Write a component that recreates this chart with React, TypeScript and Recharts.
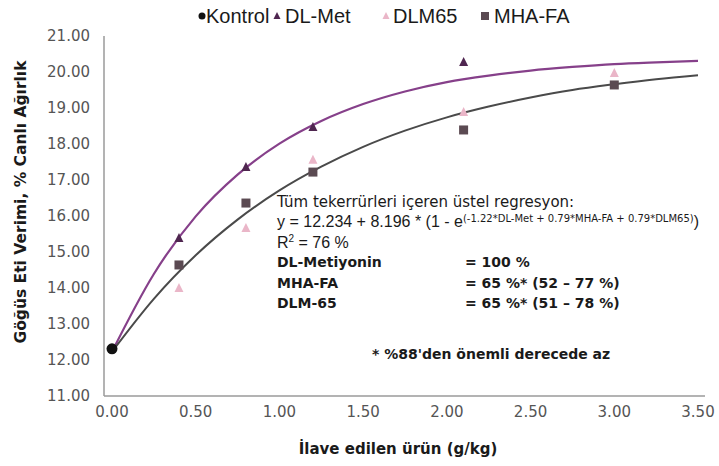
import React from 'react';
import { ComposedChart, Line, Scatter, XAxis, YAxis } from 'recharts';

// Fitted curves
const curveX = [0, 0.25, 0.5, 0.75, 1.0, 1.25, 1.5, 1.75, 2.0, 2.25, 2.5, 2.75, 3.0, 3.25, 3.5];
const dlMetCurve = [12.23, 14.39, 15.99, 17.15, 18.01, 18.64, 19.11, 19.46, 19.72, 19.9, 20.04, 20.14, 20.22, 20.27, 20.31];
const otherCurve = [12.23, 13.7, 14.91, 15.9, 16.71, 17.37, 17.92, 18.37, 18.74, 19.04, 19.29, 19.5, 19.66, 19.8, 19.91];

// Observed points
const kontrolX = [0];
const kontrolY = [12.31];
const dlMetX = [0.4, 0.8, 1.2, 2.1];
const dlMetY = [15.39, 17.36, 18.47, 20.28];
const dlm65X = [0.4, 0.8, 1.2, 2.1, 3.0];
const dlm65Y = [14.0, 15.67, 17.56, 18.89, 19.97];
const mhaX = [0.4, 0.8, 1.2, 2.1, 3.0];
const mhaY = [14.64, 16.36, 17.22, 18.39, 19.64];

const xTicks = [0, 0.5, 1, 1.5, 2, 2.5, 3, 3.5];
const yTicks = [11, 12, 13, 14, 15, 16, 17, 18, 19, 20, 21];

const legendLabels = ['Kontrol', 'DL-Met', 'DLM65', 'MHA-FA'];

const curveData = curveX.map((x, i) => ({ x, dlmet: dlMetCurve[i], other: otherCurve[i] }));
const toPts = (xs: number[], ys: number[]) => xs.map((x, i) => ({ x, y: ys[i] }));

const COL_KONTROL = '#111111';
const COL_DLMET = '#4f2650';
const COL_DLM65 = '#eab6c8';
const COL_MHA = '#5b4a52';
const COL_UPPER = '#86408a';
const COL_LOWER = '#4a4a4a';

const Circle = (p: any) => <circle cx={p.cx} cy={p.cy} r={5.5} fill={COL_KONTROL} />;
const tri = (color: string) => (p: any) => (
  <polygon
    points={`${p.cx},${p.cy - 5} ${p.cx - 4.5},${p.cy + 4} ${p.cx + 4.5},${p.cy + 4}`}
    fill={color}
  />
);
const Square = (p: any) => <rect x={p.cx - 4.5} y={p.cy - 4.5} width={9} height={9} fill={COL_MHA} />;

const FONT = '"DejaVu Sans", sans-serif';
const ARIAL = '"Liberation Sans", Arial, sans-serif';

const abs = (x: number, y: number, extra: React.CSSProperties = {}): React.CSSProperties => ({
  position: 'absolute',
  left: x,
  top: y,
  whiteSpace: 'nowrap',
  fontFamily: FONT,
  color: '#1a1a1a',
  lineHeight: 1,
  ...extra,
});

export default function App() {
  const tickStyle = { fontFamily: FONT, fontSize: 15, fill: '#555555' };
  return (
    <div style={{ position: 'relative', width: 719, height: 466, background: '#fff', overflow: 'hidden' }}>
      <style>{'body{margin:0}'}</style>
      <ComposedChart
        width={719}
        height={466}
        data={curveData}
        margin={{ top: 36, right: 14, bottom: 40, left: 44 }}
      >
        <XAxis
          dataKey="x"
          type="number"
          domain={[0, 3.5]}
          ticks={xTicks}
          tickFormatter={(v: number) => v.toFixed(2)}
          tick={tickStyle}
          tickLine={false}
          tickMargin={4}
          axisLine={{ stroke: '#9a9a9a', strokeWidth: 1.5 }}
          padding={{ left: 8, right: 7 }}
          height={30}
        />
        <YAxis
          type="number"
          domain={[11, 21]}
          ticks={yTicks}
          tickFormatter={(v: number) => v.toFixed(2)}
          tick={tickStyle}
          tickLine={false}
          tickMargin={8}
          axisLine={{ stroke: '#9a9a9a', strokeWidth: 1.5 }}
          width={60}
        />
        <Line type="monotone" dataKey="dlmet" stroke={COL_UPPER} strokeWidth={2.2} dot={false} isAnimationActive={false} />
        <Line type="monotone" dataKey="other" stroke={COL_LOWER} strokeWidth={2} dot={false} isAnimationActive={false} />
        <Scatter data={toPts(dlm65X, dlm65Y)} dataKey="y" shape={tri(COL_DLM65)} isAnimationActive={false} />
        <Scatter data={toPts(mhaX, mhaY)} dataKey="y" shape={Square} isAnimationActive={false} />
        <Scatter data={toPts(dlMetX, dlMetY)} dataKey="y" shape={tri(COL_DLMET)} isAnimationActive={false} />
        <Scatter data={toPts(kontrolX, kontrolY)} dataKey="y" shape={Circle} isAnimationActive={false} />
      </ComposedChart>

      {/* Legend */}
      <svg style={{ position: 'absolute', left: 0, top: 0 }} width={719} height={32}>
        <circle cx={202} cy={16} r={3.5} fill={COL_KONTROL} />
        <polygon points="277,12 273.5,19 280.5,19" fill={COL_DLMET} />
        <polygon points="386,12 382.5,19 389.5,19" fill={COL_DLM65} />
        <rect x={481} y={12} width={8} height={8} fill={COL_MHA} />
      </svg>
      <div style={abs(206, 6, { fontSize: 20, fontFamily: ARIAL })}>{legendLabels[0]}</div>
      <div style={abs(285, 6, { fontSize: 20, fontFamily: ARIAL })}>{legendLabels[1]}</div>
      <div style={abs(393, 6, { fontSize: 20, fontFamily: ARIAL })}>{legendLabels[2]}</div>
      <div style={abs(494, 6, { fontSize: 20, fontFamily: ARIAL })}>{legendLabels[3]}</div>

      {/* Axis titles */}
      <div
        style={abs(22, 202, {
          fontSize: 15.5,
          fontWeight: 'bold',
          transform: 'translate(-50%, -50%) rotate(-90deg)',
        })}
      >
        Göğüs Eti Verimi, % Canlı Ağırlık
      </div>
      <div style={abs(398, 449, { fontSize: 15, fontWeight: 'bold', transform: 'translate(-50%, -50%)' })}>
        İlave edilen ürün (g/kg)
      </div>

      {/* Annotation */}
      <div style={abs(277, 195, { fontSize: 15 })}>Tüm tekerrürleri içeren üstel regresyon:</div>
      <div style={abs(277, 214, { fontSize: 16, fontFamily: ARIAL })}>
        y = 12.234 + 8.196 * (1 - e
        <span style={{ fontSize: 10, verticalAlign: 5, fontFamily: FONT }}>
          (-1.22*DL-Met + 0.79*MHA-FA + 0.79*DLM65)
        </span>
        )
      </div>
      <div style={abs(277, 234, { fontSize: 16, fontFamily: ARIAL })}>
        R<span style={{ fontSize: 10, verticalAlign: 6 }}>2</span> = 76 %
      </div>
      <div style={abs(277, 255, { fontSize: 14, fontWeight: 'bold' })}>DL-Metiyonin</div>
      <div style={abs(465, 255, { fontSize: 14, fontWeight: 'bold' })}>= 100 %</div>
      <div style={abs(277, 276, { fontSize: 14, fontWeight: 'bold' })}>MHA-FA</div>
      <div style={abs(465, 276, { fontSize: 14, fontWeight: 'bold' })}>= 65 %* (52 – 77 %)</div>
      <div style={abs(277, 296, { fontSize: 14, fontWeight: 'bold' })}>DLM-65</div>
      <div style={abs(465, 296, { fontSize: 14, fontWeight: 'bold' })}>= 65 %* (51 – 78 %)</div>
      <div style={abs(372, 347, { fontSize: 14, fontWeight: 'bold' })}>* %88'den önemli derecede az</div>
    </div>
  );
}
